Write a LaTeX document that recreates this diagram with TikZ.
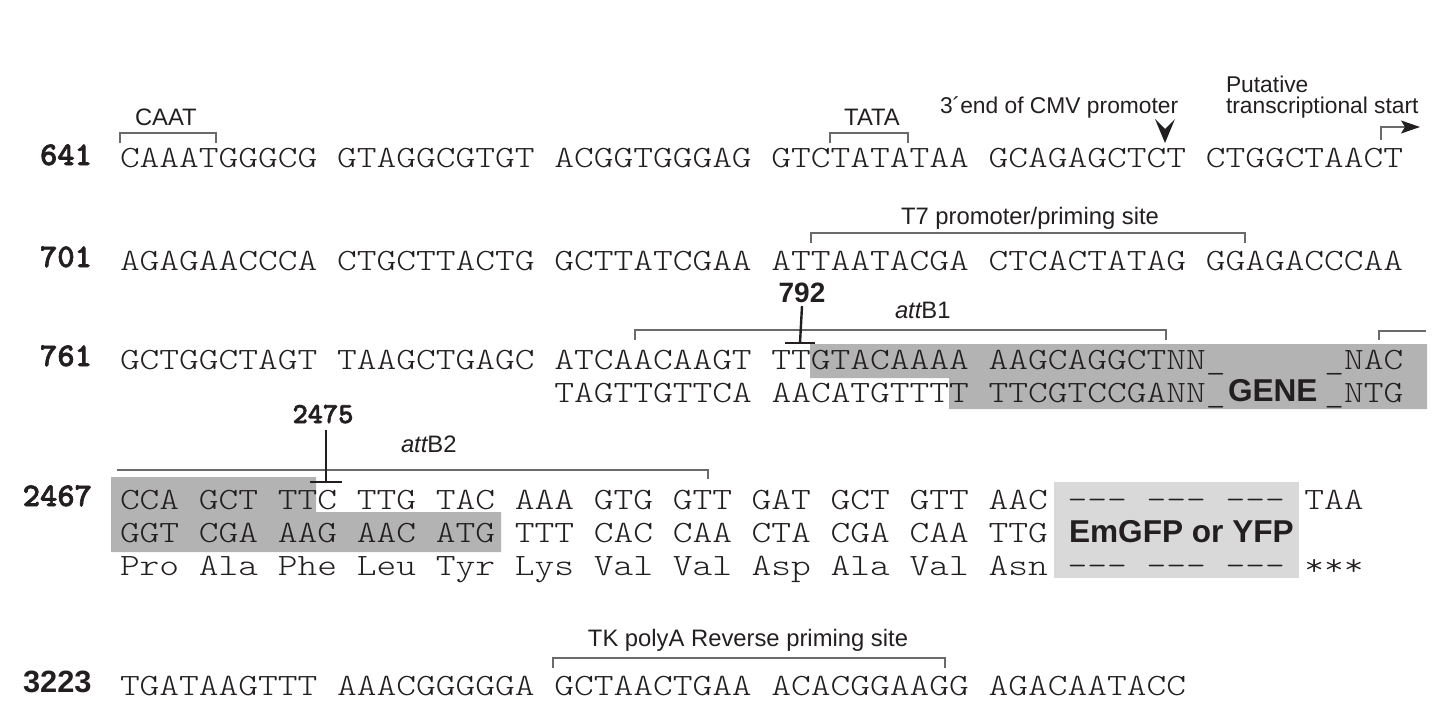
\documentclass[tikz,border=0pt]{standalone}
\usepackage{fontspec}
\usetikzlibrary{arrows.meta}
\newfontfamily\seqf{lmmonolt10-regular.otf}[FakeStretch=1.213]
\newfontfamily\numf{lmmonolt10-bold.otf}[FakeBold=2]
\newfontfamily\labf{Liberation Sans}
\definecolor{ink}{HTML}{231F20}
\definecolor{brkgray}{HTML}{6A6A6A}
\definecolor{darkbox}{HTML}{B3B3B3}
\definecolor{lightbox}{HTML}{D9D9D9}
\tikzset{
  seqtxt/.style={anchor=base west, inner sep=0pt, outer sep=0pt, text=ink, font=\seqf\fontsize{15.5}{18}\selectfont},
  numtxt/.style={anchor=base east, inner sep=0pt, outer sep=0pt, text=ink, font=\numf\fontsize{16.5}{18}\selectfont},
  postxt/.style={anchor=base, inner sep=0pt, outer sep=0pt, text=ink, font=\numf\fontsize{14.5}{16}\selectfont},
  lab/.style={inner sep=0pt, outer sep=0pt, text=ink, font=\labf\fontsize{11.9}{13.4}\selectfont},
  smlab/.style={inner sep=0pt, outer sep=0pt, text=ink, font=\labf\fontsize{11.4}{13.4}\selectfont},
  biglab/.style={anchor=base west, inner sep=0pt, outer sep=0pt, text=ink, font=\labf\bfseries\fontsize{15.8}{17}\selectfont},
  brk/.style={draw=brkgray, line width=0.65pt},
  siteline/.style={draw=ink, line width=1.2pt},
}
\begin{document}
\begin{tikzpicture}[x=0.5pt, y=-0.5pt]
\useasboundingbox (0,0) rectangle (1456,717);
% shaded boxes
\fill[darkbox] (810,344) -- (1427,344) -- (1427,409) -- (949,409) -- (949,378) -- (810,378) -- cycle;
\fill[darkbox] (111,477) -- (316,477) -- (316,512) -- (501,512) -- (501,552) -- (111,552) -- cycle;
\fill[lightbox] (1054,482) rectangle (1299,578);

% line numbers
\node[numtxt] (n641) at (92,165) {641};
\node[numtxt] (n701) at (92,267) {701};
\node[numtxt] (n761) at (92,366) {761};
\node[numtxt] (n2467) at (92,506) {2467};
\node[anchor=base east, inner sep=0pt, text=ink, font=\labf\bfseries\fontsize{15.4}{17}\selectfont] (n3223) at (92,692) {3223};

% sequences
\node[seqtxt] (s1) at (120,168) {CAAATGGGCG GTAGGCGTGT ACGGTGGGAG GTCTATATAA GCAGAGCTCT CTGGCTAACT};
\node[seqtxt] (s2) at (120,270) {AGAGAACCCA CTGCTTACTG GCTTATCGAA ATTAATACGA CTCACTATAG GGAGACCCAA};
\node[seqtxt] (s3a) at (120,369) {GCTGGCTAGT TAAGCTGAGC ATCAACAAGT TTGTACAAAA AAGCAGGCTNN\_};
\node[seqtxt] (s3a2) at ({120+61*19.744},369) {\_NAC};
\node[seqtxt] (s3b) at ({120+22*19.744},402) {TAGTTGTTCA AACATGTTTT TTCGTCCGANN\_};
\node[seqtxt] (s3b2) at ({120+61*19.744},402) {\_NTG};
\node[seqtxt] (s4a) at (120,509) {CCA GCT TTC TTG TAC AAA GTG GTT GAT GCT GTT AAC --- --- --- TAA};
\node[seqtxt] (s4b) at (120,542) {GGT CGA AAG AAC ATG TTT CAC CAA CTA CGA CAA TTG};
\node[seqtxt] (s4c) at (120,575) {Pro Ala Phe Leu Tyr Lys Val Val Asp Ala Val Asn --- --- --- ***};
\node[seqtxt] (s5) at (120,695) {TGATAAGTTT AAACGGGGGA GCTAACTGAA ACACGGAAGG AGACAATACC};

% big labels in boxes
\node[biglab] (gene) at (1228,401) {GENE};
\node[biglab] (gfp) at (1069,542) {EmGFP or YFP};

% labels
\node[lab, anchor=base west] (caat) at (135,126) {CAAT};
\node[lab, anchor=base] (tata) at (872,126) {TATA};
\node[smlab, anchor=base west] (cmv) at (940,113) {3´end of CMV promoter};
\node[smlab, anchor=base west] (put1) at (1226,93) {Putative};
\node[smlab, anchor=base west] (put2) at (1226,114) {transcriptional start};
\node[lab, anchor=base] (t7) at (1030,224) {T7 promoter/priming site};
\node[lab, anchor=base west] (attb1) at (895,318) {\itshape att\upshape B1};
\node[lab, anchor=base west] (attb2) at (401,452) {\itshape att\upshape B2};
\node[lab, anchor=base] (tk) at (748,646) {TK polyA Reverse priming site};
\node[anchor=base, inner sep=0pt, text=ink, font=\labf\bfseries\fontsize{14}{16}\selectfont] (p792) at (802,302) {792};
\node[postxt] (p2475) at (323,423) {2475};

% brackets
\draw[brk] (120,143) -- (120,133) -- (216,133) -- (216,143);
\draw[brk] (830,143) -- (830,133) -- (908,133) -- (908,143);
\draw[brk] (811,243) -- (811,233) -- (1245,233) -- (1245,243);
\draw[brk] (635,340) -- (635,330) -- (1166,330) -- (1166,340);
\draw[brk] (1379,340) -- (1379,331) -- (1426,331);
\draw[brk] (117,470) -- (708,470) -- (708,479);
\draw[brk] (553,668) -- (553,658) -- (945,658) -- (945,668);

% site markers
\coordinate (m792) at (800,343);
\coordinate (m2475) at (326,482);
\draw[siteline] (p792.south |- 0,306) -- (m792);
\draw[siteline] ([xshift=-7.5]m792) -- ([xshift=7.5]m792);
\draw[siteline] (m2475 |- 0,430) -- (m2475);
\draw[siteline] ([xshift=-8]m2475) -- ([xshift=8]m2475);

% CMV end arrowhead
\fill[ink] (1155,119) -- (1165,143) -- (1175,119) -- (1165,129) -- cycle;

% transcription start arrow
\coordinate (ts0) at (1381,140);
\coordinate (ts1) at (1420,127);
\draw[draw=brkgray, line width=0.7pt, -{Stealth[ink, length=9.5pt, width=6.5pt, inset=2pt]}] (ts0) |- (ts1);
\end{tikzpicture}
\end{document}
